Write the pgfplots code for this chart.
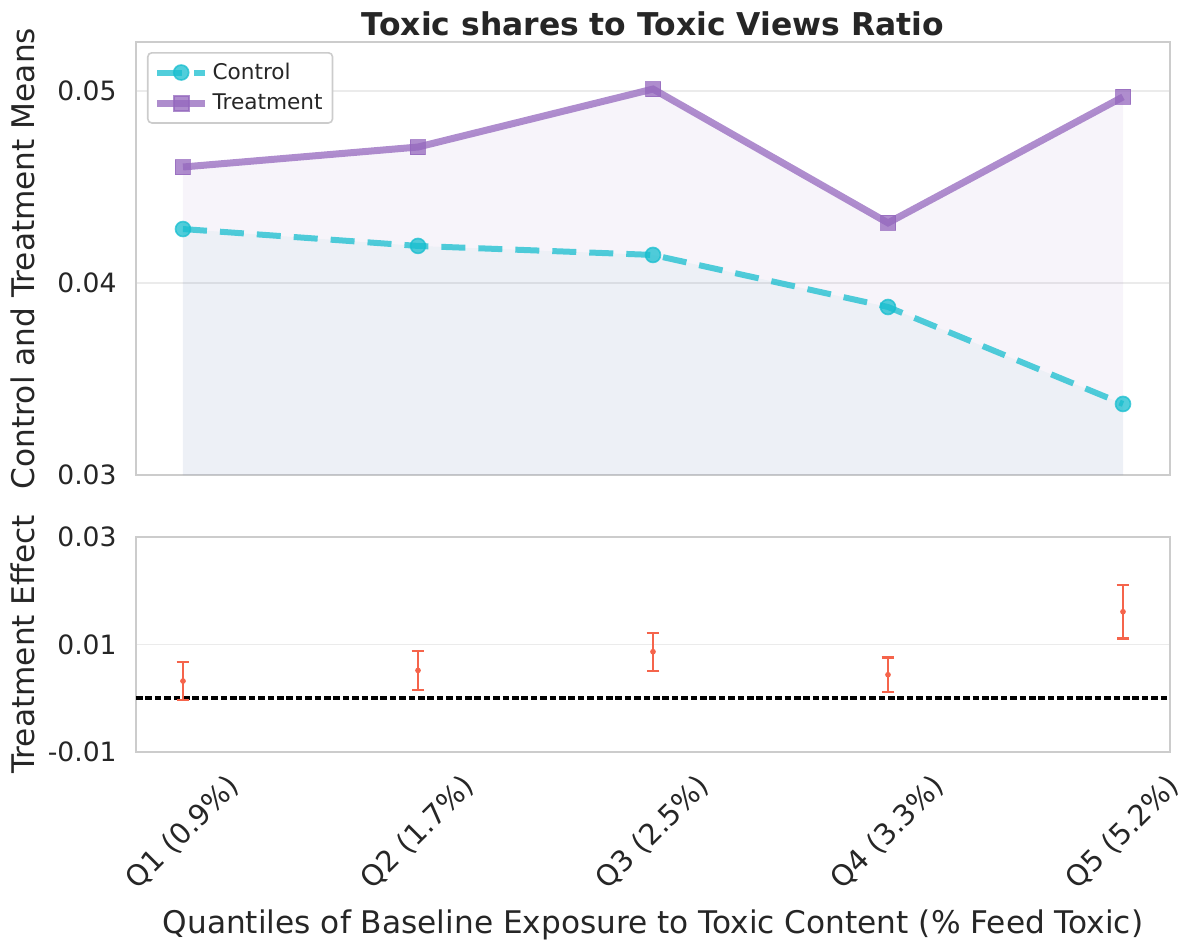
\documentclass[border=0pt]{standalone}
\usepackage{fontspec}
\setmainfont{DejaVu Sans}
\usepackage{pgfplots}
\pgfplotsset{compat=1.18}

\definecolor{ctrl}{RGB}{23,190,207}
\definecolor{treat}{RGB}{148,103,189}
\definecolor{err}{RGB}{245,100,75}
\definecolor{frame}{RGB}{204,204,204}
\definecolor{gridc}{RGB}{235,235,235}
\definecolor{txt}{RGB}{38,38,38}

\pgfplotsset{
  base/.style={
    scale only axis, width=517pt, xmin=-0.2, xmax=4.2,
    axis line style={frame, line width=1pt},
    major tick length=0pt,
    scaled y ticks=false,
    ymajorgrids, grid style={gridc, line width=0.6pt},
    tick label style={font=\fontsize{14.4}{17}\selectfont, text=txt},
    yticklabel style={inner sep=0pt, xshift=-9.5pt, font=\fontsize{13.3}{16}\selectfont},
    every axis y label/.style={at={(axis description cs:-0.109,0.5)}, rotate=90, anchor=center,
        font=\fontsize{15.6}{18}\selectfont, text=txt},
  },
}

\begin{document}
\begin{tikzpicture}
\useasboundingbox (-68pt,-234.5pt) rectangle (526pt,237.5pt);

% upper panel: group means
\begin{axis}[base, at={(0,0)}, anchor=south west, height=216.5pt,
    ymin=0.03, ymax=0.05255,
    ytick={0.03,0.04,0.05}, yticklabels={0.03,0.04,0.05},
    xtick=\empty,
    ylabel={Control and Treatment Means},
    title={Toxic shares to Toxic Views Ratio},
    every axis title/.style={at={(axis description cs:0.5,1)}, anchor=base, yshift=3.5pt,
        font=\fontsize{15.7}{19}\selectfont\bfseries, text=txt},
    legend style={at={(0,1)}, anchor=north west, xshift=5.5pt, yshift=-5pt,
        draw=frame, line width=0.8pt, rounded corners=2pt, fill=white,
        font=\fontsize{10.8}{13}\selectfont, text=txt, row sep=2pt, inner sep=3pt},
    legend cell align={left},
    legend image code/.code={
        \draw[mark repeat=2, mark phase=2, #1] plot coordinates {(0cm,0cm) (0.42cm,0cm) (0.84cm,0cm)};
    },
]
\addplot[draw=none, fill=treat, fill opacity=0.07, forget plot] coordinates {
    (0,0.03) (0,0.04604) (1,0.04708) (2,0.05010) (3,0.04313) (4,0.04969) (4,0.03)
};
\addplot[draw=none, fill=ctrl!60!gray, fill opacity=0.06, forget plot] coordinates {
    (0,0.03) (0,0.04281) (1,0.04193) (2,0.04146) (3,0.03875) (4,0.03370) (4,0.03)
};
\addplot[ctrl, opacity=0.75, line width=3pt, dash pattern=on 12pt off 6.5pt,
    mark=*, mark size=3.75pt, mark options={solid, line width=0.8pt, fill=ctrl}] coordinates {
    (0,0.04281) (1,0.04193) (2,0.04146) (3,0.03875) (4,0.03370)
};
\addlegendentry{Control}
\addplot[treat, opacity=0.75, line width=3.5pt,
    mark=square*, mark size=3.75pt, mark options={line width=0.8pt, fill=treat}] coordinates {
    (0,0.04604) (1,0.04708) (2,0.05010) (3,0.04313) (4,0.04969)
};
\addlegendentry{Treatment}
\end{axis}

% lower panel: treatment effect with intervals
\begin{axis}[base, at={(0,-31pt)}, anchor=north west, height=107.5pt,
    ymin=-0.01, ymax=0.03,
    ytick={-0.01,0.01,0.03}, yticklabels={-0.01,0.01,0.03},
    xtick={0,1,2,3,4},
    xticklabels={Q1 (0.9\%), Q2 (1.7\%), Q3 (2.5\%), Q4 (3.3\%), Q5 (5.2\%)},
    xticklabel style={anchor=center, yshift=-40.5pt, rotate=45},
    ylabel={Treatment Effect},
    xlabel={Quantiles of Baseline Exposure to Toxic Content (\% Feed Toxic)},
    every axis x label/.style={at={(axis description cs:0.5,0)}, anchor=base, yshift=-90.5pt,
        font=\fontsize{15.6}{18}\selectfont, text=txt},
]
\addplot[black, line width=1.8pt, dash pattern=on 3.3pt off 1.4pt] coordinates {(-0.2,0) (4.2,0)};
\addplot[err, only marks, mark=*, mark size=1.2pt,
    error bars/.cd, y dir=both, y explicit,
    error bar style={line width=1.1pt, err},
    error mark options={rotate=90, mark size=3.2pt, line width=1.1pt, err}] coordinates {
    (0,0.00320) +- (0,0.00350)
    (1,0.00518) +- (0,0.00360)
    (2,0.00866) +- (0,0.00354)
    (3,0.00438) +- (0,0.00322)
    (4,0.01610) +- (0,0.00500)
};
\end{axis}
\end{tikzpicture}
\end{document}
